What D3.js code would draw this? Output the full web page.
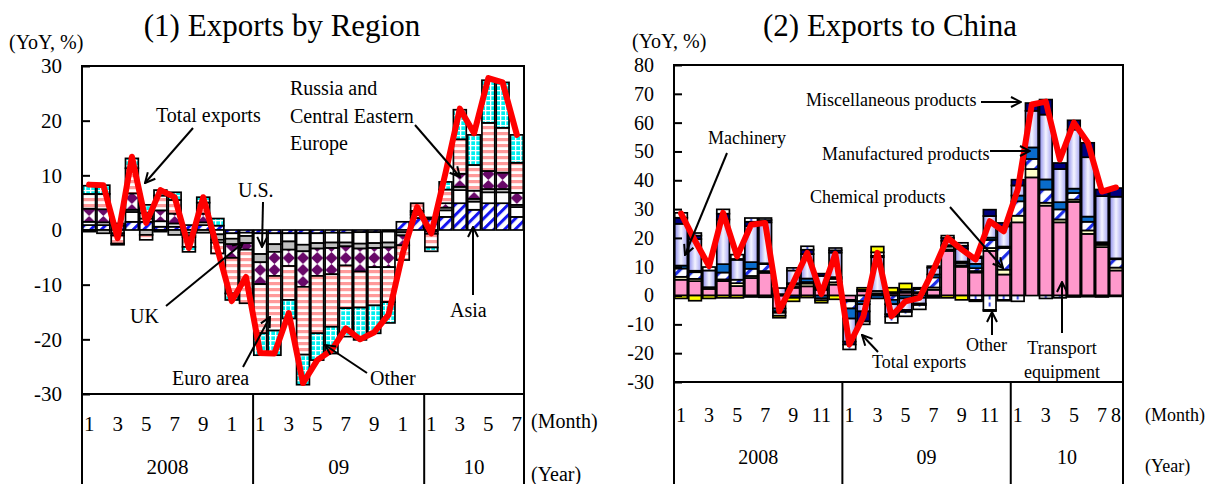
<!DOCTYPE html>
<html>
<head>
<meta charset="utf-8">
<script src="https://cdn.jsdelivr.net/npm/d3@7"></script>
<style>
  html, body { margin: 0; padding: 0; background: #fff; }
  svg { display: block; font-family: "Liberation Serif", "Times New Roman", serif; }
</style>
</head>
<body>
<svg id="chart" width="1213" height="484"></svg>
<script>
// ---------------- Panel (1): exports by region, YoY % ----------------
const regionMonths = [
  "2008-01","2008-02","2008-03","2008-04","2008-05","2008-06","2008-07","2008-08","2008-09","2008-10","2008-11","2008-12",
  "2009-01","2009-02","2009-03","2009-04","2009-05","2009-06","2009-07","2009-08","2009-09","2009-10","2009-11","2009-12",
  "2010-01","2010-02","2010-03","2010-04","2010-05","2010-06","2010-07"
];
const regionMonthTicks = [
  "1","","3","","5","","7","","9","","1","",
  "1","","3","","5","","7","","9","","1","",
  "1","","3","","5","","7"
];
const regionYTicks = [-30, -20, -10, 0, 10, 20, 30];

const regionAsia    = [0.9, 0.9, 0.8, 1.5, 1.5, 0.6, 0.6, 0.9, 0.9, 0.8, -0.6, -0.5, -0.6, -0.6, -0.6, -0.6, -0.6, -0.5, -0.5, -0.4, -0.4, -0.3, 1.5, 2.2, 2.0, 2.4, 4.9, 3.7, 4.9, 4.9, 2.4];
const regionUS      = [0.6, 0.5, 0.4, 1.8, 0.6, 1.0, 0.6, -0.5, 0.5, -0.8, -1.0, -0.6, -3.8, -2.0, -1.5, -2.1, -1.8, -1.8, -1.8, -2.1, -2.0, -2.0, -0.4, 0.6, 0.3, 1.2, 2.4, 1.5, 2.0, 2.0, 1.8];
const regionUK      = [-0.3, -0.6, -0.6, 0.4, -0.9, -0.3, -0.9, -0.5, -0.5, -1.0, -1.0, -1.3, -1.5, -1.4, -1.5, -1.2, -1.0, -1.0, -0.7, -0.9, -0.9, -0.9, -0.6, 0.4, -0.3, 0.5, 0.6, 0.5, 0.6, 0.6, 0.4];
const regionRussia  = [2.4, 2.4, -0.4, 3.0, 1.0, 2.0, 1.8, -0.3, 1.6, -0.5, -2.5, -1.2, -4.0, -4.4, -3.0, -6.5, -5.0, -4.8, -3.5, -4.2, -3.5, -3.6, -1.8, 0.3, -0.4, 0.8, 2.4, 1.5, 3.3, 3.0, 2.2];
const regionEuro    = [2.7, 2.8, -1.5, 4.6, -0.9, 2.7, 2.5, -1.8, 2.0, -2.0, -6.5, -9.8, -9.0, -10.0, -6.2, -12.4, -10.5, -9.6, -7.8, -6.6, -7.0, -6.4, -2.7, 1.4, -2.5, 2.5, 6.3, 4.7, 8.8, 8.2, 5.5];
const regionOther   = [1.5, 1.6, -0.2, 1.8, 1.5, 1.0, 1.4, -0.9, 1.0, 1.3, -1.2, 0, -4.0, -4.5, -3.4, -5.5, -4.9, -4.9, -5.2, -5.9, -5.1, -3.8, 0, 0, -0.7, 1.4, 5.4, 5.5, 7.8, 8.3, 5.1];
const regionTotal   = [8.3, 8.2, -1.5, 13.4, 1.3, 7.3, 6.0, -3.3, 6.0, -3.5, -13.0, -8.6, -22.5, -22.6, -15.2, -28.0, -23.8, -22.0, -18.0, -20.0, -18.7, -15.5, -4.2, 4.2, -0.6, 10.5, 22.2, 17.7, 27.8, 27.0, 17.4];

// ---------------- Panel (2): exports to China by goods, YoY % ----------------
const chinaMonths = [
  "2008-01","2008-02","2008-03","2008-04","2008-05","2008-06","2008-07","2008-08","2008-09","2008-10","2008-11","2008-12",
  "2009-01","2009-02","2009-03","2009-04","2009-05","2009-06","2009-07","2009-08","2009-09","2009-10","2009-11","2009-12",
  "2010-01","2010-02","2010-03","2010-04","2010-05","2010-06","2010-07","2010-08"
];
const chinaMonthTicks = [
  "1","","3","","5","","7","","9","","11","",
  "1","","3","","5","","7","","9","","11","",
  "1","","3","","5","","7","8"
];
const chinaYTicks = [-30, -20, -10, 0, 10, 20, 30, 40, 50, 60, 70, 80];

const chinaTransport    = [5.5, 5.0, 2.3, 5.0, 3.3, 6.1, 7.9, -4.5, 2.7, 3.2, 2.0, 3.8, -1.5, 1.5, 0.5, 0.7, 1.0, 0.8, 2.0, 15.5, 10.0, 8.0, 15.5, 7.3, 25.4, 41.0, 31.2, 25.4, 32.5, 21.4, 16.8, 8.7];
const chinaMaterials    = [1.0, 0.8, 0.6, 0.6, 1.0, 0.7, 0.6, 0, 0.3, 1.0, 0.3, 0.8, -0.5, 0.5, 0.3, 0.5, 0.5, 0.4, 0.8, 0.5, 0.5, 0.5, 1.0, 1.7, 2.3, 2.9, 1.0, 1.0, 0.8, 1.2, 0.8, 1.0];
const chinaChemical     = [2.9, 2.3, 0, 2.4, 1.2, 2.5, 2.4, 0.5, 0.8, 0.5, 0.5, 1.2, -2.5, -2.0, 0.8, -1.5, 0.7, 1.0, 3.5, 1.0, 0.8, 1.0, 2.8, 7.5, 5.0, 3.5, 4.6, 3.5, 2.3, 3.0, 0.5, 2.9];
const chinaManufactured = [1.0, 0.5, 0, 2.9, 0, 2.3, 0.3, -1.0, 0.5, 1.2, -1.0, 0.6, -3.5, -1.0, -1.0, -1.5, -1.0, -0.8, 1.0, 0.5, 0.5, 1.5, 0.8, 0.5, 2.0, 4.0, 3.5, 2.5, 1.5, 1.8, 0.4, 0.3];
const chinaMachinery    = [14.5, 11.0, 5.8, 15.5, 6.9, 12.5, 14.2, 2.1, 4.4, 8.5, 4.0, 8.5, -8.0, -2.5, 11.7, -3.5, -4.0, -2.0, 2.4, 1.5, 4.5, 2.0, 7.5, 7.0, 3.5, 12.7, 22.5, 11.5, 20.5, 20.6, 16.0, 21.4];
const chinaMisc         = [2.1, 1.2, 0, 2.0, 0.3, 1.5, 0.8, -0.5, -0.8, 1.5, 0.8, 0.8, -1.0, -3.5, 0.5, -0.8, -0.7, -0.5, -0.5, 1.0, 1.0, 0.6, 2.2, 1.2, 2.0, 2.7, 5.2, 2.1, 3.2, 5.0, 2.3, 3.0];
const chinaOther        = [1.7, 0.9, 1.2, 1.5, 1.5, 1.3, 0.7, -1.0, 0.9, 1.2, -0.7, 0.8, -1.7, -1.0, 1.2, -2.2, -1.5, -1.5, 0.5, 0.8, 1.0, -1.5, -5.0, -1.5, -2.0, 0, -1.0, -0.8, -0.5, -0.4, -0.5, -0.3];
const chinaFood         = [-1.0, -1.8, -1.0, -0.8, -0.8, -0.5, -0.6, -0.7, -1.2, -0.7, -0.8, -1.3, 0, 0.7, 2.0, 1.5, 2.0, 0.5, -0.3, -0.8, -1.5, -0.5, -0.4, -0.3, 0, 0, 0, 0, 0, 0, 0, 0];
const chinaTotal        = [28.5, 19.0, 10.2, 28.7, 13.6, 24.6, 25.2, -5.4, 4.5, 14.8, 0.5, 14.5, -17.0, -7.2, 14.8, -7.2, -2.0, -0.8, 9.0, 20.0, 16.0, 12.5, 25.8, 22.3, 36.8, 66.3, 67.3, 47.2, 60.0, 53.0, 36.1, 37.5];

const yearNames = { "2008": "2008", "2009": "09", "2010": "10" };

// ---------------- drawing ----------------
const svg = d3.select("#chart");
const defs = svg.append("defs");

function stripes(id, size, band, color, angle, bg) {
  const p = defs.append("pattern").attr("id", id)
    .attr("patternUnits", "userSpaceOnUse").attr("width", size).attr("height", size)
    .attr("patternTransform", `rotate(${angle})`);
  p.append("rect").attr("width", size).attr("height", size).attr("fill", bg);
  p.append("rect").attr("width", band).attr("height", size).attr("fill", color);
}
stripes("asiaHatch", 7.5, 3, "#1414F0", 45, "#fff");
stripes("chemHatch", 10, 3.2, "#1E2EE6", 45, "#fff");

// pink / white horizontal stripes
const euro = defs.append("pattern").attr("id", "euroStripes")
  .attr("patternUnits", "userSpaceOnUse").attr("width", 6).attr("height", 6);
euro.append("rect").attr("width", 6).attr("height", 6).attr("fill", "#fff");
euro.append("rect").attr("width", 6).attr("height", 3.2).attr("fill", "#FF9A9A");

// cyan grid
const grid = defs.append("pattern").attr("id", "cyanGrid")
  .attr("patternUnits", "userSpaceOnUse").attr("width", 5).attr("height", 5);
grid.append("rect").attr("width", 5).attr("height", 5).attr("fill", "#00F0F0");
grid.append("rect").attr("width", 1.3).attr("height", 5).attr("fill", "#fff");
grid.append("rect").attr("width", 5).attr("height", 1.3).attr("fill", "#fff");

// machinery: lavender shading across each bar
const mg = defs.append("linearGradient").attr("id", "machineryShade")
  .attr("x1", 0).attr("x2", 1).attr("y1", 0).attr("y2", 0);
mg.append("stop").attr("offset", "0%").attr("stop-color", "#8C8CEC");
mg.append("stop").attr("offset", "50%").attr("stop-color", "#F4F4FF");
mg.append("stop").attr("offset", "100%").attr("stop-color", "#A4A4F2");

// arrow head
defs.append("marker").attr("id", "arrowHead")
  .attr("viewBox", "0 0 12 12").attr("refX", 11).attr("refY", 6)
  .attr("markerWidth", 12).attr("markerHeight", 12)
  .attr("markerUnits", "userSpaceOnUse").attr("orient", "auto")
  .append("path").attr("d", "M1,1 L11,6 L1,11")
  .attr("fill", "none").attr("stroke", "#000").attr("stroke-width", 2);

// patterns whose tile follows the month grid
function diamonds(id, step, x0) {
  const h = 12;
  const p = defs.append("pattern").attr("id", id)
    .attr("patternUnits", "userSpaceOnUse").attr("x", x0).attr("y", 0)
    .attr("width", step).attr("height", h);
  p.append("rect").attr("width", step).attr("height", h).attr("fill", "#fff");
  const c = step / 2;
  p.append("path").attr("d", `M${c},0 L${c + 6.2},${h / 2} L${c},${h} L${c - 6.2},${h / 2}Z`).attr("fill", "#680868");
}
function dashes(id, step, x0) {
  const p = defs.append("pattern").attr("id", id)
    .attr("patternUnits", "userSpaceOnUse").attr("x", x0).attr("y", 0)
    .attr("width", step).attr("height", 7);
  p.append("rect").attr("width", step).attr("height", 7).attr("fill", "#fff");
  p.append("rect").attr("x", step / 2 - 0.9).attr("y", 1.5).attr("width", 1.8).attr("height", 4).attr("fill", "#2436E8");
}

const panels = [
  {
    title: "(1) Exports by Region", titleX: 282, months: regionMonths, monthTicks: regionMonthTicks,
    yTicks: regionYTicks, yDomain: [-30, 30], total: regionTotal,
    series: [
      { key: "Asia", values: regionAsia, fill: "url(#asiaHatch)" },
      { key: "U.S.", values: regionUS, fill: "#FFFFFF" },
      { key: "UK", values: regionUK, fill: "#C0C0C0" },
      { key: "Russia and Central Eastern Europe", values: regionRussia, fill: "url(#russiaDiamonds)" },
      { key: "Euro area", values: regionEuro, fill: "url(#euroStripes)" },
      { key: "Other", values: regionOther, fill: "url(#cyanGrid)" }
    ],
    diamondId: "russiaDiamonds",
    x0: 82, x1: 524, yTop: 66, yBottom: 394,
    tickFont: 21, tickX: 62, monthY: 424, yearY: 467, unitFont: 20, unitX: 531, monthUnitY: 421, yearUnitY: 474,
    yoyX: 9, yoyY: 49, noteFont: 20,
    notes: [
      { lines: ["Total exports"], x: 156, y: 122, arrow: [[193, 128], [145, 183]] },
      { lines: ["Russia and", "Central Eastern", "Europe"], x: 290, y: 95, lh: 27.5, arrow: [[415, 125], [460, 177]] },
      { lines: ["U.S."], x: 238, y: 197, arrow: [[263, 202], [262, 247]] },
      { lines: ["UK"], x: 130, y: 323, arrow: [[166, 306], [243, 243]] },
      { lines: ["Euro area"], x: 172, y: 385, arrow: [[243, 367], [270, 317]] },
      { lines: ["Other"], x: 370, y: 385, arrow: [[367, 373], [325, 345]] },
      { lines: ["Asia"], x: 450, y: 317, arrow: [[473, 295], [473, 227]] }
    ]
  },
  {
    title: "(2) Exports to China", titleX: 890, months: chinaMonths, monthTicks: chinaMonthTicks,
    yTicks: chinaYTicks, yDomain: [-30, 80], total: chinaTotal,
    series: [
      { key: "Transport equipment", values: chinaTransport, fill: "#FF99CC" },
      { key: "Materials", values: chinaMaterials, fill: "#FFFFC8" },
      { key: "Chemical products", values: chinaChemical, fill: "url(#chemHatch)" },
      { key: "Manufactured products", values: chinaManufactured, fill: "#0A6CCB" },
      { key: "Machinery", values: chinaMachinery, fill: "url(#machineryShade)" },
      { key: "Miscellaneous products", values: chinaMisc, fill: "#00007E" },
      { key: "Other", values: chinaOther, fill: "url(#chinaDashes)" },
      { key: "Food", values: chinaFood, fill: "#FFFF00" }
    ],
    dashId: "chinaDashes",
    x0: 674, x1: 1123, yTop: 65, yBottom: 382,
    tickFont: 20, tickX: 654, monthY: 415, yearY: 457, unitFont: 18, unitX: 1145, monthUnitY: 415, yearUnitY: 466,
    yoyX: 632, yoyY: 48, noteFont: 18,
    notes: [
      { lines: ["Miscellaneous products"], x: 806, y: 106, arrow: [[981, 102], [1021, 102]] },
      { lines: ["Manufactured products"], x: 822, y: 160, arrow: [[990, 151], [1030, 151]] },
      { lines: ["Chemical products"], x: 810, y: 203, arrow: [[950, 207], [1003, 268]] },
      { lines: ["Machinery"], x: 708, y: 144, arrow: [[727, 153], [685, 255]] },
      { lines: ["Total exports"], x: 872, y: 368, arrow: [[878, 352], [862, 335]] },
      { lines: ["Other"], x: 966, y: 351, arrow: [[992, 335], [992, 312]] },
      { lines: ["Transport", "equipment"], x: 1062, y: 354, lh: 24, anchor: "middle", arrow: [[1062, 333], [1062, 282]] }
    ]
  }
];

panels.forEach(P => {
  const x = d3.scaleBand().domain(P.months).range([P.x0, P.x1]).paddingInner(0.1).paddingOuter(0.05);
  const step = x.step();
  const y = d3.scaleLinear().domain(P.yDomain).range([P.yBottom, P.yTop]);
  if (P.diamondId) diamonds(P.diamondId, step, P.x0);
  if (P.dashId) dashes(P.dashId, step, P.x0);

  const g = svg.append("g");

  // title and unit
  g.append("text").attr("x", P.titleX).attr("y", 36).attr("text-anchor", "middle")
    .attr("font-size", 31).text(P.title);
  g.append("text").attr("x", P.yoyX).attr("y", P.yoyY).attr("font-size", 20).text("(YoY, %)");

  // stacked bars
  const rows = P.months.map((m, i) => {
    const r = { month: m };
    P.series.forEach(s => { r[s.key] = s.values[i]; });
    return r;
  });
  const stacked = d3.stack().keys(P.series.map(s => s.key)).offset(d3.stackOffsetDiverging)(rows);
  g.append("g").selectAll("g").data(stacked).join("g")
    .attr("fill", (d, i) => P.series[i].fill)
    .selectAll("rect").data(d => d.filter(p => p[1] !== p[0])).join("rect")
    .attr("x", p => x(p.data.month))
    .attr("width", x.bandwidth())
    .attr("y", p => y(Math.max(p[0], p[1])))
    .attr("height", p => Math.abs(y(p[0]) - y(p[1])))
    .attr("stroke", "#000").attr("stroke-width", 1.7);

  // total exports line
  const line = d3.line().x((v, i) => x(P.months[i]) + x.bandwidth() / 2).y(v => y(v));
  g.append("path").datum(P.total).attr("d", line)
    .attr("fill", "none").attr("stroke", "#FF0000").attr("stroke-width", 6)
    .attr("stroke-linejoin", "round").attr("stroke-linecap", "round");

  // frame and value axis
  g.append("rect").attr("x", P.x0).attr("y", P.yTop).attr("width", P.x1 - P.x0).attr("height", P.yBottom - P.yTop)
    .attr("fill", "none").attr("stroke", "#000").attr("stroke-width", 2);
  const yAxis = d3.axisLeft(y).tickValues(P.yTicks).tickSize(-8).tickPadding(0).tickFormat(d => String(d));
  const ya = g.append("g").attr("transform", `translate(${P.x0},0)`).call(yAxis);
  ya.select(".domain").remove();
  ya.selectAll("line").attr("stroke", "#000").attr("stroke-width", 2);
  ya.selectAll("text").attr("x", P.tickX - P.x0).attr("font-size", P.tickFont)
    .attr("font-family", "Liberation Serif, Times New Roman, serif").attr("fill", "#000");

  // category axis: months, years and separators
  const years = d3.groups(P.months.map((m, i) => ({ m, i, yr: m.slice(0, 4) })), d => d.yr);
  const seps = [P.x0];
  years.forEach(([yr, list]) => {
    const a = x(list[0].m) - x.step() * x.paddingInner() / 2;
    const b = x(list[list.length - 1].m) + x.bandwidth() + x.step() * x.paddingInner() / 2;
    seps.push(b);
    g.append("text").attr("x", (a + b) / 2).attr("y", P.yearY).attr("text-anchor", "middle")
      .attr("dominant-baseline", "central").attr("font-size", P.tickFont).text(yearNames[yr]);
  });
  seps[seps.length - 1] = P.x1;
  g.append("g").selectAll("line").data(seps).join("line")
    .attr("x1", d => d).attr("x2", d => d).attr("y1", P.yBottom).attr("y2", 484)
    .attr("stroke", "#000").attr("stroke-width", 2);
  g.append("g").selectAll("text").data(P.months).join("text")
    .attr("x", m => x(m) + x.bandwidth() / 2).attr("y", P.monthY)
    .attr("text-anchor", "middle").attr("dominant-baseline", "central")
    .attr("font-size", P.tickFont).text((m, i) => P.monthTicks[i]);
  g.append("text").attr("x", P.unitX).attr("y", P.monthUnitY).attr("dominant-baseline", "central")
    .attr("font-size", P.unitFont).text("(Month)");
  g.append("text").attr("x", P.unitX).attr("y", P.yearUnitY).attr("dominant-baseline", "central")
    .attr("font-size", P.unitFont).text("(Year)");

  // annotations
  P.notes.forEach(n => {
    const t = g.append("text").attr("font-size", P.noteFont).attr("text-anchor", n.anchor || "start");
    n.lines.forEach((s, k) => {
      t.append("tspan").attr("x", n.x).attr("y", n.y + k * (n.lh || 0)).text(s);
    });
    g.append("line")
      .attr("x1", n.arrow[0][0]).attr("y1", n.arrow[0][1])
      .attr("x2", n.arrow[1][0]).attr("y2", n.arrow[1][1])
      .attr("stroke", "#000").attr("stroke-width", 2).attr("marker-end", "url(#arrowHead)");
  });
});
</script>
</body>
</html>
